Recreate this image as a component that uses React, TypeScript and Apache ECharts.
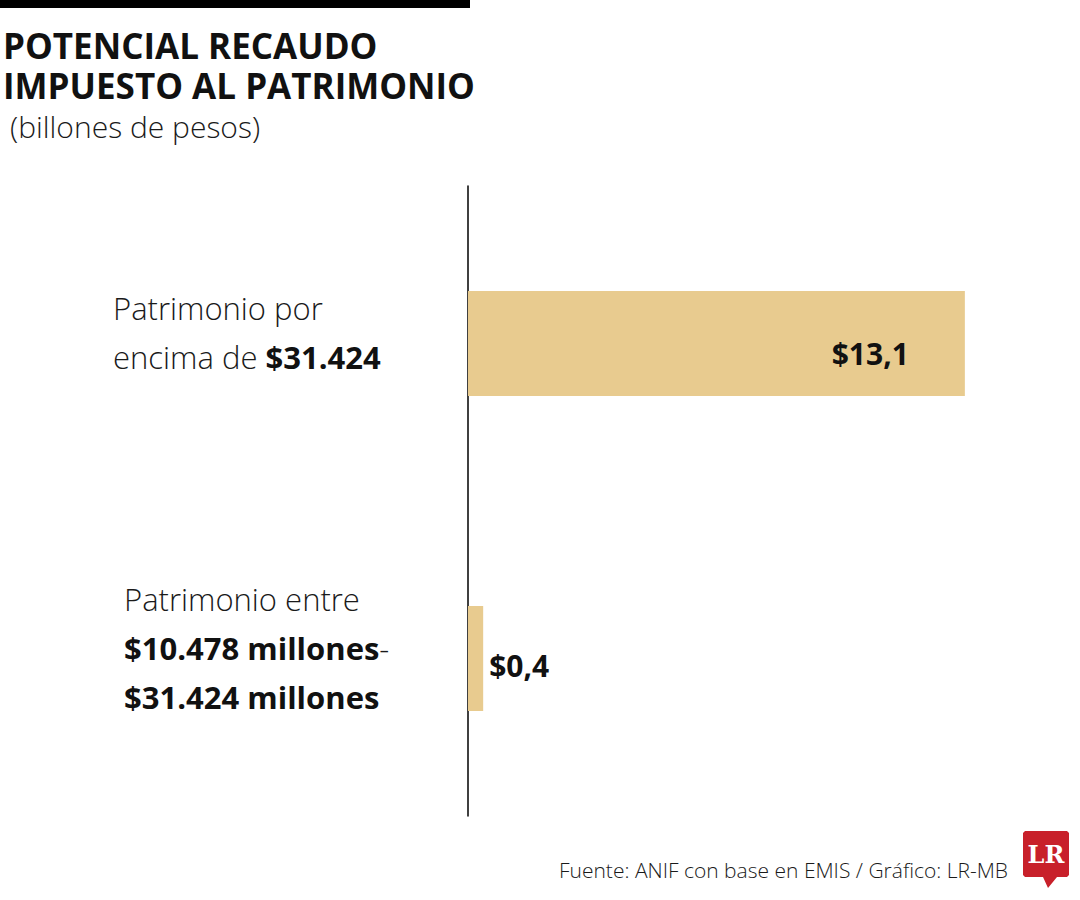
import React, { useEffect, useRef } from "react";
import * as echarts from "echarts";

const categories = ["Patrimonio por encima de $31.424", "Patrimonio entre $10.478 millones-$31.424 millones"];
const values = [13.1, 0.4];
const valueLabels = ["$13,1", "$0,4"];

const BAR = "#e8cb8f";
const FONT = "'Open Sans', 'Noto Sans', sans-serif";

export default function App() {
  const ref = useRef<HTMLDivElement>(null);
  useEffect(() => {
    const chart = echarts.init(ref.current!, null, { renderer: "svg" });
    chart.setOption({
      animation: false,
      backgroundColor: "#ffffff",
      grid: { left: 468, top: 186, width: 531, height: 630, containLabel: false },
      xAxis: {
        type: "value",
        min: 0,
        max: 14,
        show: false,
      },
      yAxis: {
        type: "category",
        inverse: true,
        data: categories,
        axisLine: { show: true, lineStyle: { color: "#000000", width: 1.5 } },
        axisTick: { show: false },
        splitLine: { show: false },
        axisLabel: {
          align: "left",
          margin: 355,
          padding: [0, 0, 22, 0],
          formatter: (v: string, i: number) =>
            i === 0
              ? "{l|Patrimonio por}\n{l|encima de }{b|$31.424}"
              : "{l2|Patrimonio entre}\n{b2|$10.478 millones}{l|-}\n{b2|$31.424 millones}",
          rich: {
            l: { fontFamily: FONT, fontWeight: 300, fontSize: 31, color: "#1a1a1a", lineHeight: 49 },
            l2: { fontFamily: FONT, fontWeight: 300, fontSize: 31, color: "#1a1a1a", lineHeight: 49, padding: [0, 0, 0, 11] },
            b: { fontFamily: FONT, fontWeight: "bold", fontSize: 31, color: "#111111", lineHeight: 49 },
            b2: { fontFamily: FONT, fontWeight: "bold", fontSize: 31, color: "#111111", lineHeight: 49, padding: [0, 0, 0, 11] },
          },
        },
      },
      series: [
        {
          type: "bar",
          data: values.map((v, i) => ({
            value: v,
            label:
              i === 0
                ? { show: true, position: "insideRight", distance: 56, offset: [0, 10], formatter: valueLabels[i] }
                : { show: true, position: "right", distance: 6, offset: [0, 7], formatter: valueLabels[i] },
          })),
          barWidth: 105,
          itemStyle: { color: BAR },
          label: { fontFamily: FONT, fontWeight: "bold", fontSize: 30, color: "#111111" },
        },
      ],
      graphic: [
        { type: "rect", left: 0, top: 0, shape: { width: 470, height: 8 }, style: { fill: "#000000" } },
        {
          type: "text",
          left: 3,
          top: 25,
          style: {
            text: "POTENCIAL RECAUDO\nIMPUESTO AL PATRIMONIO",
            fontFamily: FONT,
            fontWeight: "bold",
            fontSize: 35,
            lineHeight: 40,
            fill: "#111111",
          },
        },
        {
          type: "text",
          left: 10,
          top: 111,
          style: { text: "(billones de pesos)", fontFamily: FONT, fontWeight: 300, fontSize: 30, fill: "#1a1a1a" },
        },
        {
          type: "text",
          right: 72,
          top: 859,
          style: {
            text: "Fuente: ANIF con base en EMIS / Gráfico: LR-MB",
            fontFamily: FONT,
            fontWeight: 300,
            fontSize: 21,
            fill: "#1a1a1a",
          },
        },
        {
          type: "polygon",
          shape: {
            points: [
              [1023, 833], [1025, 831], [1067, 831], [1069, 833], [1069, 875], [1067, 877],
              [1057, 877], [1048, 888], [1043, 877], [1025, 877], [1023, 875],
            ],
          },
          style: { fill: "#c8202a" },
        },
        {
          type: "text",
          x: 1046,
          y: 854,
          style: {
            text: "LR",
            fontFamily: "'DejaVu Serif', 'Liberation Serif', serif",
            fontWeight: "bold",
            fontSize: 24,
            fill: "#ffffff",
            align: "center",
            verticalAlign: "middle",
          },
        },
      ],
    });
    return () => chart.dispose();
  }, []);
  return <div ref={ref} style={{ position: "fixed", left: 0, top: 0, width: 1080, height: 900 }} />;
}
